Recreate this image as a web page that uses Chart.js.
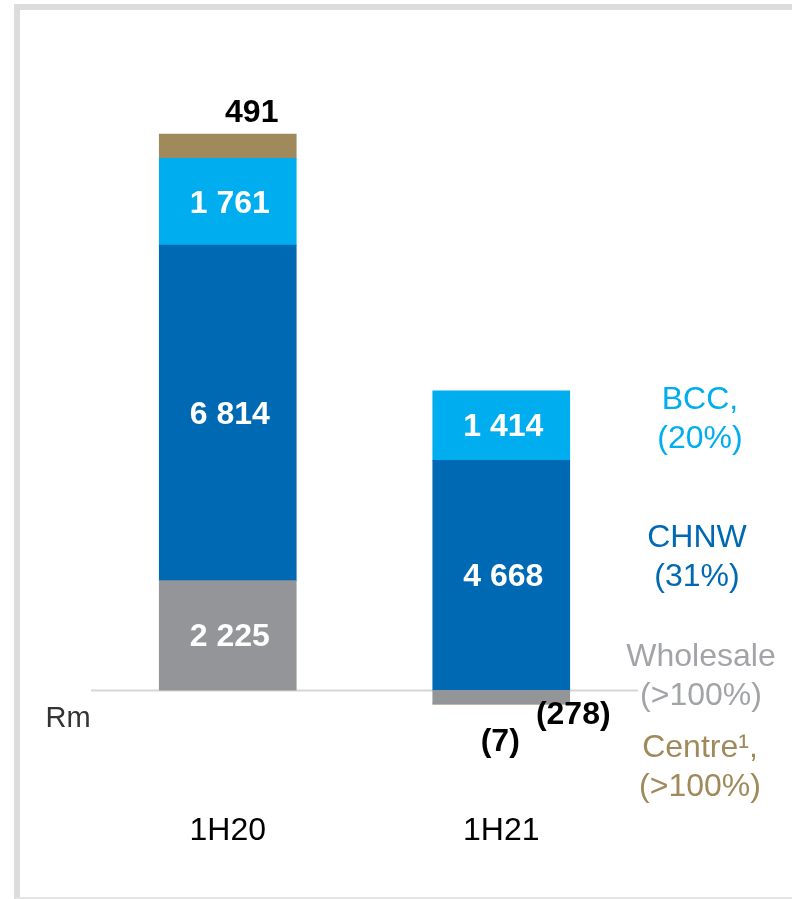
<!DOCTYPE html>
<html>
<head>
<meta charset="utf-8">
<script src="https://cdn.jsdelivr.net/npm/chart.js@4"></script>
<style>
  html, body { margin: 0; padding: 0; background: #fff; overflow: hidden; }
  #frame {
    position: absolute; left: 14px; top: 4px; width: 820px; height: 895px;
    box-sizing: border-box; border-left: 6px solid #dcdcdc; border-top: 6px solid #dcdcdc;
    border-bottom: 2px solid #e6e6e6;
  }
  #chart { position: absolute; left: 0; top: 0; }
</style>
</head>
<body>
<div id="frame"></div>
<canvas id="chart" width="792" height="899"></canvas>
<script>
  // Chart data (Rm)
  const categories = ['1H20', '1H21'];
  const wholesale = [2225, -278];
  const chnw = [6814, 4668];
  const bcc = [1761, 1414];
  const centre = [491, -7];

  const colours = {
    wholesale: '#939598',
    chnw: '#0069b4',
    bcc: '#00aeef',
    centre: '#a08a5c'
  };

  const FONT = '"Liberation Sans", Arial, sans-serif';

  function fmt(v) {
    const s = String(Math.abs(v)).replace(/\B(?=(\d{3})+(?!\d))/g, ' ');
    return v < 0 ? '(' + s + ')' : s;
  }

  // Zero line behind the bars
  const zeroLine = {
    id: 'zeroLine',
    beforeDatasetsDraw(chart) {
      const { ctx, chartArea, scales } = chart;
      const y = Math.round(scales.y.getPixelForValue(0)) + 0.5;
      ctx.save();
      ctx.strokeStyle = '#d6d6d6';
      ctx.lineWidth = 2;
      ctx.beginPath();
      ctx.moveTo(chartArea.left, y);
      ctx.lineTo(chartArea.right, y);
      ctx.stroke();
      ctx.restore();
    }
  };

  // Value labels, category labels and side notes
  const labels = {
    id: 'labels',
    afterDatasetsDraw(chart) {
      const { ctx, scales } = chart;
      ctx.save();
      ctx.textAlign = 'center';
      ctx.textBaseline = 'middle';

      // inside labels (white, bold) for the big segments
      ctx.font = 'bold 32px ' + FONT;
      ctx.fillStyle = '#ffffff';
      chart.data.datasets.forEach(function(ds, di) {
        const meta = chart.getDatasetMeta(di);
        meta.data.forEach(function(bar, i) {
          const v = ds.data[i];
          if (Math.abs(v) < 1000) return;
          ctx.fillText(fmt(v), bar.x + 2, (bar.y + bar.base) / 2 + 2);
        });
      });

      // small segments get black labels outside the bar
      ctx.fillStyle = '#000000';
      const cen0 = chart.getDatasetMeta(3).data[0];
      ctx.fillText(fmt(centre[0]), cen0.x + 24, cen0.y - 21);
      const wh1 = chart.getDatasetMeta(0).data[1];
      ctx.fillText(fmt(wholesale[1]), wh1.x + 72, wh1.y + 11);
      const cen1 = chart.getDatasetMeta(3).data[1];
      ctx.fillText(fmt(centre[1]), cen1.x - 1, cen1.y + 38);

      // category labels
      ctx.font = '32px ' + FONT;
      categories.forEach(function(c, i) {
        ctx.fillText(c, scales.x.getPixelForValue(i), 831);
      });

      // unit
      ctx.font = '29px ' + FONT;
      ctx.fillStyle = '#333333';
      ctx.fillText('Rm', 68, 719);

      // segment notes on the right
      ctx.font = '32px ' + FONT;
      const notes = [
        ['BCC,', '(20%)', colours.bcc, 700, 400],
        ['CHNW', '(31%)', colours.chnw, 697, 538],
        ['Wholesale', '(>100%)', '#a2a4a7', 701, 657],
        ['Centre\u00b9,', '(>100%)', colours.centre, 700, 748]
      ];
      notes.forEach(function(n) {
        ctx.fillStyle = n[2];
        ctx.fillText(n[0], n[3], n[4]);
        ctx.fillText(n[1], n[3], n[4] + 39);
      });
      ctx.restore();
    }
  };

  new Chart(document.getElementById('chart'), {
    type: 'bar',
    data: {
      labels: categories,
      datasets: [
        { label: 'Wholesale', data: wholesale, backgroundColor: colours.wholesale },
        { label: 'CHNW', data: chnw, backgroundColor: colours.chnw },
        { label: 'BCC', data: bcc, backgroundColor: colours.bcc },
        { label: 'Centre', data: centre, backgroundColor: colours.centre }
      ]
    },
    options: {
      responsive: false,
      animation: false,
      devicePixelRatio: 1,
      layout: { padding: { top: 50, bottom: 61, left: 91, right: 154 } },
      datasets: { bar: { barThickness: 137, borderWidth: 0 } },
      scales: {
        x: { stacked: true, display: false },
        y: { stacked: true, display: false, min: -3000, max: 13000 }
      },
      plugins: {
        legend: { display: false },
        tooltip: { enabled: false }
      }
    },
    plugins: [zeroLine, labels]
  });
</script>
</body>
</html>
